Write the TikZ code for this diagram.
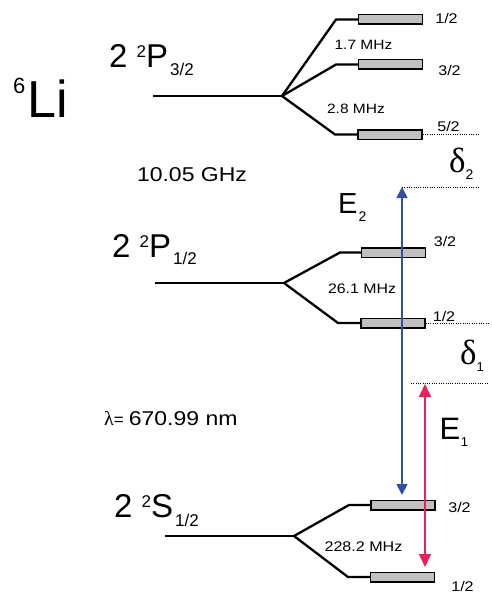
\documentclass[tikz,border=0pt]{standalone}
\usepackage{fontspec}
\setmainfont{Liberation Sans}
\newfontfamily\lblfont[FakeStretch=1.15]{Liberation Sans}
\newfontfamily\grk{Liberation Serif}
\usetikzlibrary{arrows.meta}
\definecolor{boxgray}{RGB}{192,192,192}
\definecolor{eblue}{RGB}{50,80,165}
\definecolor{ered}{RGB}{232,35,90}
\newcommand\fs[1]{\fontsize{#1}{#1}\selectfont}
\newcommand\term[4]{\fs{33}2 \raisebox{#3}{\fs{17}2}#1\kern2pt\raisebox{-#4}{\fs{17}#2}}
\tikzset{
  lvl/.style={line width=2.3pt},
  hfbox/.style={rectangle, draw=black, line width=1.5pt, fill=boxgray, minimum width=64pt, minimum height=9.5pt, inner sep=0pt},
  guide/.style={line width=0.6pt, dash pattern=on 1pt off 1.3pt},
  lbl/.style={inner sep=0pt, anchor=base, font=\lblfont\fs{14}},
  big/.style={inner sep=0pt, anchor=base west},
  barrow/.style={draw=eblue, line width=1.7pt, {Triangle[width=11pt,length=11pt]}-{Triangle[width=11pt,length=11pt]}},
  rarrow/.style={draw=ered, line width=1.7pt, {Triangle[width=12pt,length=13pt]}-{Triangle[width=12pt,length=13pt]}}
}
\begin{document}
\begin{tikzpicture}[x=1pt,y=-1pt]
\useasboundingbox (0,0) rectangle (491,594);

% ---------- 2 2P3/2 ----------
\coordinate (m3) at (153,96);
\coordinate (s3) at (282,96);
\coordinate (e3a) at (336,19.5);
\coordinate (e3b) at (336,64.5);
\coordinate (e3c) at (335,134.5);
\node[hfbox] (h3a) at (390.5,19.5) {};
\node[hfbox] (h3b) at (390.5,64.5) {};
\node[hfbox] (h3c) at (390,134.5) {};
\draw[lvl] (m3) -- (s3);
\draw[lvl] (s3) -- (e3a) -- (h3a.west);
\draw[lvl] (s3) -- (e3b) -- (h3b.west);
\draw[lvl] (s3) -- (e3c) -- (h3c.west);
\node[lbl] (f3a) at (446.5,24) {1/2};
\node[lbl] (f3b) at (449.5,75) {3/2};
\node[lbl] (f3c) at (448.5,131) {5/2};
\node[lbl, font=\lblfont\fs{13.5}] (d3a) at (363.5,49) {1.7 MHz};
\node[lbl, font=\lblfont\fs{13.5}] (d3b) at (356,113) {2.8 MHz};
\coordinate (g5) at (480,134.5);
\draw[guide] (h3c.east) -- (g5);

% ---------- 2 2P1/2 ----------
\coordinate (m1) at (155,283);
\coordinate (s1) at (284,283);
\coordinate (e1a) at (340,252.5);
\coordinate (e1b) at (338,323);
\node[hfbox] (h1a) at (393.5,252.5) {};
\node[hfbox] (h1b) at (393,323) {};
\draw[lvl] (m1) -- (s1);
\draw[lvl] (s1) -- (e1a) -- (h1a.west);
\draw[lvl] (s1) -- (e1b) -- (h1b.west);
\node[lbl] (f1a) at (445,246) {3/2};
\node[lbl] (f1b) at (444,321) {1/2};
\node[lbl, font=\lblfont\fs{13.8}] (d1) at (362,293) {26.1 MHz};
\coordinate (g1) at (490,323);
\draw[guide] (h1b.east) -- (g1);

% ---------- 2 2S1/2 ----------
\coordinate (m0) at (165,536);
\coordinate (s0) at (294,536);
\coordinate (e0a) at (349,505);
\coordinate (e0b) at (348,577);
\node[hfbox] (h0a) at (403,505) {};
\node[hfbox] (h0b) at (402.5,577) {};
\draw[lvl] (m0) -- (s0);
\draw[lvl] (s0) -- (e0a) -- (h0a.west);
\draw[lvl] (s0) -- (e0b) -- (h0b.west);
\node[lbl] (f0a) at (459.5,512) {3/2};
\node[lbl] (f0b) at (462.5,591) {1/2};
\node[lbl, font=\lblfont\fs{14}] (d0) at (363.5,551) {228.2 MHz};

% ---------- state labels ----------
\node[big] (li) at (13,117) {\raisebox{24pt}{\fs{22}6}\kern2pt{\fs{52}Li}};
\node[big] (t3) at (109,67) {\term{P}{3/2}{10pt}{8pt}};
\node[big] (t1) at (112,257) {\term{P}{1/2}{10pt}{7pt}};
\node[big] (t0) at (114,517) {\term{S}{1/2}{10pt}{9pt}};
\node[lbl, font=\lblfont\fs{20}] (ghz) at (192,181) {10.05 GHz};
\node[big] (lam) at (104,425) {{\grk\fs{20}λ}{\fs{17}=}\kern5pt{\lblfont\fs{20}670.99 nm}};

% ---------- lasers ----------
\coordinate (bt) at (402,187);
\coordinate (bb) at (402,495);
\coordinate (rt) at (425,384);
\coordinate (rb) at (425,567);
\coordinate (g2) at (478,187);
\coordinate (g0a) at (411,383);
\coordinate (g0b) at (487,383);
\draw[guide] (bt) -- (g2);
\draw[guide] (g0a) -- (g0b);
\draw[barrow] (bt) -- (bb);
\draw[rarrow] (rt) -- (rb);
\node[big] (E2) at (338,213) {\fs{29}E\kern1pt\raisebox{-8pt}{\fs{14}2}};
\node[big] (E1) at (439.5,439) {\fs{31}E\kern0.5pt\raisebox{-7pt}{\fs{13}1}};
\node[big] (dl2) at (449,172) {{\grk\fs{35}δ}\raisebox{-7pt}{\fs{14}2}};
\node[big] (dl1) at (460,364) {{\grk\fs{35}δ}\raisebox{-7pt}{\fs{13}1}};
\end{tikzpicture}
\end{document}
